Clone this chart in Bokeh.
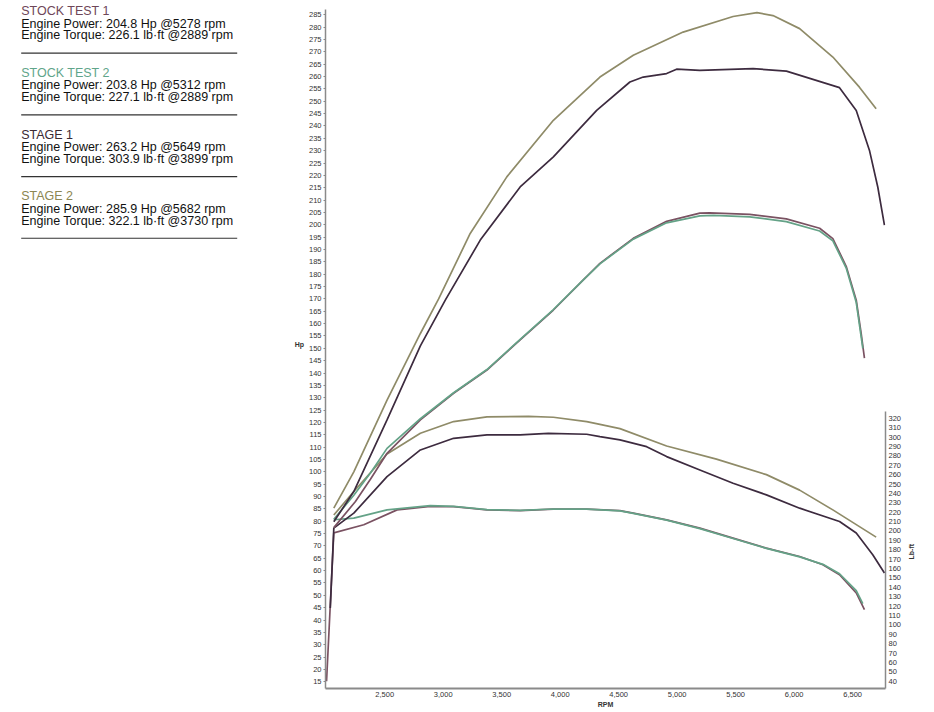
import math
from bokeh.plotting import figure
from bokeh.models import Range1d, LinearAxis, FixedTicker, NumeralTickFormatter
from bokeh.layouts import row
from bokeh.embed import file_html
from bokeh.resources import INLINE
from bokeh.core.properties import value

# ---------------- data ----------------
run_names = ["STOCK TEST 1", "STOCK TEST 2", "STAGE 1", "STAGE 2"]
peak_hp = [204.8, 203.8, 263.2, 285.9]
peak_hp_rpm = [5278, 5312, 5649, 5682]
peak_tq = [226.1, 227.1, 303.9, 322.1]
peak_tq_rpm = [2889, 2889, 3899, 3730]
run_colors = ["#6e4658", "#5fa58a", "#3a2a33", "#8c8652"]
line_colors = ["#7a5262", "#64a287", "#3d2b3f", "#8f8b68"]

# power (hp) vs rpm
stock1_hp_rpm = [2065, 2250, 2378, 2520, 2805, 3089, 3374, 3658, 3942, 4198, 4340, 4625, 4910, 5194, 5278, 5620, 5933, 6218, 6331, 6445, 6531, 6573, 6601]
stock1_hp = [77.4, 88.0, 97.0, 107.5, 121.0, 131.8, 141.2, 153.4, 165.5, 177.7, 184.4, 194.5, 201.4, 204.7, 204.8, 204.2, 202.4, 198.6, 194.4, 183.2, 169.5, 156.0, 146.0]
stock2_hp_rpm = [2065, 2236, 2378, 2520, 2805, 3089, 3374, 3658, 3942, 4198, 4340, 4625, 4910, 5194, 5312, 5620, 5933, 6218, 6331, 6445, 6531, 6587]
stock2_hp = [80.8, 90.5, 99.5, 109.5, 121.5, 132.0, 141.4, 153.6, 165.7, 177.7, 184.2, 194.2, 200.8, 203.6, 203.8, 203.2, 201.3, 197.5, 193.5, 182.5, 168.5, 150.0]
stage1_hp_rpm = [2065, 2236, 2520, 2805, 3018, 3317, 3658, 3942, 4312, 4596, 4710, 4910, 4995, 5194, 5649, 5934, 6388, 6531, 6644, 6715, 6772]
stage1_hp = [79.8, 92.0, 121.0, 151.0, 169.5, 193.8, 215.3, 227.5, 246.3, 257.8, 259.8, 261.2, 263.0, 262.5, 263.2, 262.2, 255.5, 246.3, 230.1, 215.3, 199.9]
stage2_hp_rpm = [2065, 2236, 2520, 2805, 2961, 3231, 3544, 3942, 4340, 4625, 5051, 5478, 5682, 5819, 6047, 6331, 6558, 6701]
stage2_hp = [85.3, 100.0, 129.0, 156.0, 170.0, 196.5, 219.4, 242.3, 259.8, 268.6, 278.0, 284.3, 285.9, 284.7, 279.4, 267.9, 255.7, 247.0]

# torque (lb-ft) vs rpm
stock1_tq_rpm = [2003, 2065, 2321, 2606, 2889, 3089, 3374, 3658, 3942, 4227, 4511, 4625, 4910, 5194, 5478, 5763, 6047, 6246, 6388, 6531, 6601]
stock1_tq = [40.0, 198.0, 206.6, 222.5, 226.1, 226.0, 222.5, 221.7, 223.2, 223.2, 221.7, 219.0, 211.9, 203.0, 192.4, 181.8, 172.9, 164.0, 153.4, 134.0, 116.2]
stock2_tq_rpm = [2065, 2236, 2520, 2889, 3089, 3374, 3658, 3942, 4227, 4511, 4625, 4910, 5194, 5478, 5763, 6047, 6246, 6388, 6531, 6587]
stock2_tq = [212.0, 213.7, 222.5, 227.1, 226.3, 222.8, 222.0, 223.4, 223.3, 221.5, 218.8, 211.5, 202.5, 192.0, 181.5, 172.5, 164.5, 154.5, 136.5, 122.6]
stage1_tq_rpm = [2035, 2065, 2236, 2520, 2805, 3089, 3374, 3658, 3899, 4227, 4340, 4511, 4739, 4910, 5194, 5478, 5763, 6047, 6388, 6531, 6672, 6772]
stage1_tq = [118.0, 203.0, 219.0, 257.9, 286.3, 298.7, 302.3, 302.3, 303.9, 303.0, 300.4, 297.0, 289.8, 279.2, 265.0, 250.9, 238.5, 224.3, 210.1, 197.8, 174.7, 155.2]
stage2_tq_rpm = [2065, 2236, 2520, 2805, 3089, 3374, 3730, 3942, 4227, 4340, 4511, 4910, 5336, 5763, 6047, 6331, 6701]
stage2_tq = [217.0, 242.0, 282.0, 304.0, 316.5, 321.5, 322.1, 321.1, 316.4, 313.5, 309.0, 290.5, 276.5, 260.0, 243.5, 222.5, 193.5]

hp_ticks = list(range(15, 290, 5))
tq_ticks = list(range(40, 330, 10))
rpm_ticks = [2500, 3000, 3500, 4000, 4500, 5000, 5500, 6000, 6500]

FONT = "Liberation Sans"
H = 710
TOP = 0       # frame top (px)
BOTTOM = 21   # bottom border (px)
FRAME_BOTTOM = H - BOTTOM

# ---------------- left text panel ----------------
W_LEFT = 258
tp = figure(width=W_LEFT, height=H, x_range=Range1d(0, W_LEFT), y_range=Range1d(FRAME_BOTTOM, TOP),
            title=None, output_backend="svg", toolbar_location=None,
            min_border_left=0, min_border_right=0, min_border_top=TOP, min_border_bottom=BOTTOM)
tp.axis.visible = False
tp.grid.visible = False
tp.outline_line_color = None

block_h = 61.8
for i, name in enumerate(run_names):
    y0 = 10.7 + i * block_h
    tp.text(x=[20.7], y=[y0], text=[name], text_font=value(FONT), text_font_size="12.5px",
            text_color=run_colors[i], text_baseline="middle", text_align="left")
    lines = ["Engine Power: %.1f Hp @%d rpm" % (peak_hp[i], peak_hp_rpm[i]),
             "Engine Torque: %.1f lb\u00b7ft @%d rpm" % (peak_tq[i], peak_tq_rpm[i])]
    tp.text(x=[20.7, 20.7], y=[y0 + 12.5, y0 + 24.3], text=lines, text_font=value(FONT),
            text_font_size="12.5px", text_color="#111111", text_baseline="middle", text_align="left")
    tp.segment(x0=[20.7], y0=[y0 + 42.0], x1=[236.7], y1=[y0 + 42.0], line_color="#333333", line_width=1.2)

# ---------------- main chart ----------------
K = 2.63  # lb-ft per hp-axis unit (both axes share zero)
y0v, y1v = 12.29, 290.79
p = figure(width=646, height=H, x_range=Range1d(1994, 6781), y_range=Range1d(y0v, y1v),
           title=None, output_backend="svg", toolbar_location=None,
           min_border_left=67, min_border_right=18, min_border_top=TOP, min_border_bottom=BOTTOM)
p.extra_y_ranges = {"tq": Range1d(y0v * K, y1v * K)}
p.grid.visible = False
p.outline_line_color = None
p.background_fill_color = "white"

# torque curves
for rx, ry, c in [(stock1_tq_rpm, stock1_tq, line_colors[0]), (stock2_tq_rpm, stock2_tq, line_colors[1]),
                  (stage1_tq_rpm, stage1_tq, line_colors[2]), (stage2_tq_rpm, stage2_tq, line_colors[3])]:
    p.line(rx, ry, line_color=c, line_width=1.7, y_range_name="tq")
# power curves
for rx, ry, c in [(stock1_hp_rpm, stock1_hp, line_colors[0]), (stock2_hp_rpm, stock2_hp, line_colors[1]),
                  (stage1_hp_rpm, stage1_hp, line_colors[2]), (stage2_hp_rpm, stage2_hp, line_colors[3])]:
    p.line(rx, ry, line_color=c, line_width=1.7)

ya = p.yaxis[0]
ya.ticker = FixedTicker(ticks=hp_ticks)
ya.bounds = (y0v, 287.1)
ya.major_label_text_font = FONT
ya.major_label_text_font_size = "7.5px"
ya.major_label_text_color = "#333333"
ya.major_label_standoff = 2
ya.major_tick_out = 2
ya.major_tick_in = 0
ya.minor_tick_out = 0
ya.minor_tick_in = 0
ya.axis_line_color = "#8a8a8a"
ya.axis_line_width = 1.5
ya.major_tick_line_color = "#8a8a8a"
ya.axis_label = "Hp"
ya.axis_label_orientation = "horizontal"
ya.axis_label_text_font = FONT
ya.axis_label_text_font_size = "7px"
ya.axis_label_text_font_style = "bold"
ya.axis_label_text_color = "#333333"
ya.axis_label_standoff = 2

xa = p.xaxis[0]
xa.ticker = FixedTicker(ticks=rpm_ticks)
xa.formatter = NumeralTickFormatter(format="0,0")
xa.major_label_text_font = FONT
xa.major_label_text_font_size = "7.5px"
xa.major_label_text_color = "#333333"
xa.major_label_standoff = 3
xa.major_tick_out = 0
xa.major_tick_in = 0
xa.minor_tick_out = 0
xa.minor_tick_in = 0
xa.axis_line_color = "#8a8a8a"
xa.axis_line_width = 2
xa.axis_label = "RPM"
xa.axis_label_text_font = FONT
xa.axis_label_text_font_size = "7px"
xa.axis_label_text_font_style = "bold"
xa.axis_label_text_color = "#333333"
xa.axis_label_standoff = 1

ra = LinearAxis(y_range_name="tq", ticker=FixedTicker(ticks=tq_ticks), bounds=(31, 327))
ra.major_label_text_font = FONT
ra.major_label_text_font_size = "7.5px"
ra.major_label_text_color = "#333333"
ra.major_label_standoff = 3
ra.major_tick_out = 0
ra.major_tick_in = 0
ra.minor_tick_out = 0
ra.minor_tick_in = 0
ra.axis_line_color = "#8a8a8a"
ra.axis_line_width = 1.5
p.add_layout(ra, "right")

# ---------------- right axis title strip ----------------
W_R = 16
rp = figure(width=W_R, height=H, x_range=Range1d(0, W_R), y_range=Range1d(FRAME_BOTTOM, TOP),
            title=None, output_backend="svg", toolbar_location=None,
            min_border_left=0, min_border_right=0, min_border_top=TOP, min_border_bottom=BOTTOM)
rp.axis.visible = False
rp.grid.visible = False
rp.outline_line_color = None
rp.text(x=[7], y=[552], text=["Lb-ft"], angle=math.pi / 2, text_font=value(FONT),
        text_font_size="7px", text_font_style="bold", text_color="#333333",
        text_align="center", text_baseline="middle")

layout = row(tp, p, rp)
open("out.html", "w").write(file_html(layout, INLINE))
